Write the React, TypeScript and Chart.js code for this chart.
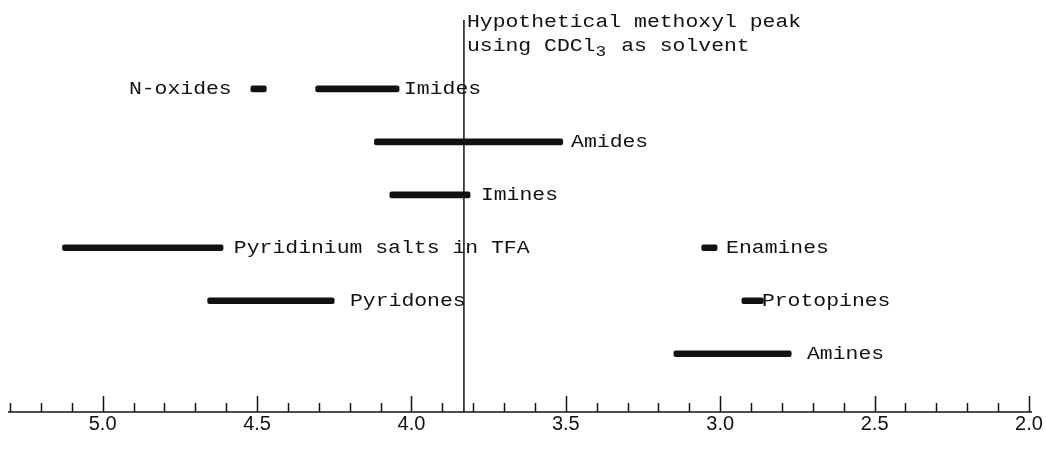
import React, { useEffect, useRef } from 'react';
import { Chart, registerables } from 'chart.js';

Chart.register(...registerables);

// ---- data (chemical shift, ppm) ----
const groups = ['N-oxides', 'Imides', 'Amides', 'Imines', 'Pyridinium salts in TFA', 'Pyridones', 'Enamines', 'Protopines', 'Amines'];
const rowIndex = [1, 1, 2, 3, 4, 5, 4, 5, 6];
const rangeFrom = [4.52, 4.31, 4.12, 4.07, 5.13, 4.66, 3.06, 2.93, 3.15];
const rangeTo = [4.47, 4.04, 3.51, 3.81, 4.61, 4.25, 3.01, 2.86, 2.77];
const labelAt = [4.915, 4.024, 3.483, 3.775, 4.575, 4.199, 2.981, 2.865, 2.719];
const referencePeak = 3.83;
const referenceNote = ['Hypothetical methoxyl peak', 'using CDCl', '3', ' as solvent'];
const axisMin = 2.0;
const axisMax = 5.3;
const axisStep = 0.1;
const labelStep = 0.5;
const rowMin = -0.3;
const rowMax = 7.1;

const MONO = '"Liberation Mono", "DejaVu Sans Mono", monospace';
const SX = 1.19;
const INK = '#111';

function monoText(ctx: CanvasRenderingContext2D, text: string, x: number, y: number, size: number, advanceSize?: number) {
  ctx.save();
  ctx.font = `${advanceSize || size}px ${MONO}`;
  const w = ctx.measureText(text).width * SX;
  ctx.font = `${size}px ${MONO}`;
  ctx.textBaseline = 'alphabetic';
  ctx.textAlign = 'left';
  ctx.translate(x, y);
  ctx.scale(SX, 1);
  ctx.fillText(text, 0, 0);
  ctx.restore();
  return w;
}

const isMajor = (v: number) => Math.abs(v / labelStep - Math.round(v / labelStep)) < 1e-6;

const overlay = {
  id: 'overlay',
  afterDatasetsDraw(chart: any) {
    const ctx: CanvasRenderingContext2D = chart.ctx;
    const xs = chart.scales.x;
    const ys = chart.scales.y;
    const area = chart.chartArea;
    ctx.save();
    ctx.fillStyle = INK;
    ctx.strokeStyle = INK;
    ctx.lineWidth = 1.5;
    // axis line
    ctx.beginPath();
    ctx.moveTo(area.left - 2, area.bottom);
    ctx.lineTo(area.right + 3, area.bottom);
    ctx.stroke();
    // tick marks pointing up
    xs.ticks.forEach((t: any) => {
      const px = Math.round(xs.getPixelForValue(t.value)) + 0.5;
      ctx.beginPath();
      ctx.moveTo(px, area.bottom);
      ctx.lineTo(px, area.bottom - (isMajor(t.value) ? 16 : 9));
      ctx.stroke();
    });
    // group labels
    groups.forEach((g, i) => {
      monoText(ctx, g, xs.getPixelForValue(labelAt[i]), ys.getPixelForValue(rowIndex[i]) + 5, 18);
    });
    // reference note
    const nx = xs.getPixelForValue(referencePeak) + 3;
    monoText(ctx, referenceNote[0], nx, area.top + 7, 18);
    let w = monoText(ctx, referenceNote[1], nx, area.top + 31, 18);
    w += monoText(ctx, referenceNote[2], nx + w, area.top + 36, 15, 18);
    monoText(ctx, referenceNote[3], nx + w, area.top + 31, 18);
    ctx.restore();
  },
};

export default function App() {
  const ref = useRef<HTMLCanvasElement>(null);
  useEffect(() => {
    document.body.style.margin = '0';
    const chart = new Chart(ref.current as HTMLCanvasElement, {
      type: 'bar',
      data: {
        datasets: [
          {
            type: 'bar',
            data: groups.map((g, i) => ({ y: rowIndex[i], x: [rangeFrom[i], rangeTo[i]] })) as any,
            backgroundColor: INK,
            barThickness: 6,
            borderSkipped: false,
            borderRadius: 2,
          } as any,
          {
            type: 'line',
            data: [
              { x: referencePeak, y: rowMin },
              { x: referencePeak, y: rowMax },
            ],
            borderColor: INK,
            borderWidth: 1.5,
            pointRadius: 0,
            fill: false,
          } as any,
        ],
      },
      options: {
        indexAxis: 'y',
        animation: false,
        responsive: false,
        events: [],
        layout: { padding: { top: 20, left: 10, right: 17, bottom: 0 } },
        plugins: { legend: { display: false }, tooltip: { enabled: false } },
        scales: {
          x: {
            type: 'linear',
            position: 'bottom',
            reverse: true,
            offset: false,
            min: axisMin,
            max: axisMax,
            grid: { display: false, drawTicks: false, offset: false },
            border: { display: false },
            afterFit: (scale: any) => {
              scale.height = 39;
            },
            ticks: {
              stepSize: axisStep,
              autoSkip: false,
              maxRotation: 0,
              padding: 0,
              color: INK,
              font: { family: '"Liberation Sans", Arial, sans-serif', size: 20 },
              callback: (v: any) => (isMajor(Number(v)) ? Number(v).toFixed(1) : ''),
            },
          },
          y: {
            type: 'linear',
            display: false,
            reverse: true,
            offset: false,
            grid: { offset: false },
            min: rowMin,
            max: rowMax,
          },
        },
      },
      plugins: [overlay],
    });
    return () => chart.destroy();
  }, []);
  return (
    <div style={{ width: 1046, height: 451 }}>
      <canvas ref={ref} width={1046} height={451} style={{ display: 'block' }} />
    </div>
  );
}
